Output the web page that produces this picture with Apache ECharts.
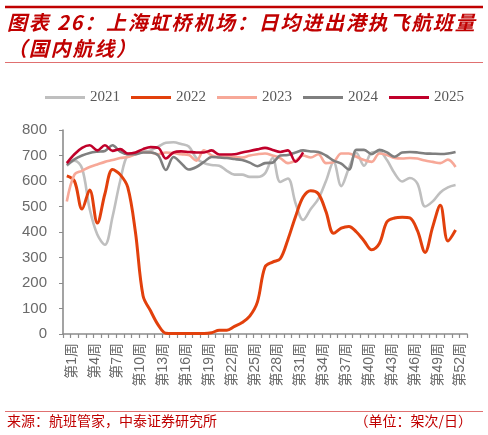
<!DOCTYPE html>
<html>
<head>
<meta charset="utf-8">
<script src="https://cdn.jsdelivr.net/npm/echarts@6/dist/echarts.min.js"></script>
<style>
html,body{margin:0;padding:0;background:#fff;}
#wrap{position:relative;width:488px;height:435px;}
#c{width:488px;height:435px;}
#title{position:absolute;left:7px;top:9px;font-family:"Noto Sans CJK SC",sans-serif;font-size:20px;font-weight:bold;font-style:italic;color:#C00000;line-height:26px;letter-spacing:1.8px;white-space:pre;}
</style>
</head>
<body>
<div id="wrap">
<div id="c"></div>
<div id="title">图表 26：上海虹桥机场：日均进出港执飞航班量
（国内航线）</div>
</div>
<script>
const weeks = [];
for (let i = 1; i <= 52; i++) weeks.push('第' + i + '周');
weeks.push('');

const yTicks = { min: 0, max: 800, interval: 100 };

const s2021 = [660,680,650,490,390,350,460,600,700,705,715,720,735,750,752,745,735,690,670,663,660,640,625,625,616,616,630,690,596,610,514,447,490,530,600,675,580,650,710,660,712,715,682,630,598,612,590,500,520,555,575,584];
const s2022 = [620,600,490,565,435,550,645,625,575,400,150,90,35,3,2,2,2,2,2,5,15,15,30,45,70,125,263,282,295,370,460,537,562,550,480,395,415,422,400,365,330,355,440,455,458,455,405,320,420,505,365,408];
const s2023 = [520,625,640,655,665,675,682,690,694,705,714,712,705,712,710,705,702,680,720,700,694,694,694,692,700,705,708,700,690,670,680,700,692,705,670,675,708,708,695,682,675,708,702,690,688,690,688,680,675,670,684,655];
const s2024 = [663,685,700,710,715,718,740,715,705,705,712,712,700,643,694,670,645,655,675,694,692,690,686,682,672,658,670,672,700,702,712,720,716,714,700,680,668,645,722,722,705,722,712,695,712,714,712,708,707,706,708,714];
const s2025 = [670,705,730,740,720,740,718,725,708,712,725,733,730,688,712,716,714,712,712,720,704,704,705,712,718,724,730,722,714,720,676,712];

const names = ['2021','2022','2023','2024','2025'];
const colors = ['#BFBFBF','#E2400C','#F7A898','#7F7F7F','#C0002A'];
const dataSets = [s2021, s2022, s2023, s2024, s2025];

const chart = echarts.init(document.getElementById('c'));
const series = names.map((n, k) => ({
  name: n,
  type: 'line',
  data: dataSets[k],
  showSymbol: false,
  smooth: 0.35,
  lineStyle: { color: colors[k], width: k === 1 ? 3 : 2.6 },
  itemStyle: { color: colors[k] }
}));

chart.setOption({
  animation: false,
  legend: {
    data: names,
    left: 40,
    top: 85,
    icon: 'rect',
    itemWidth: 40,
    itemHeight: 3,
    itemGap: 11,
    textStyle: { color: '#595959', fontSize: 15, fontFamily: '"Liberation Serif", serif' }
  },
  grid: { left: 63, right: 21, top: 130, bottom: 101, containLabel: false },
  xAxis: {
    type: 'category',
    data: weeks,
    boundaryGap: true,
    axisLine: { lineStyle: { color: '#8C8C8C', width: 1.6 } },
    axisTick: { show: true, interval: 0, length: 4, lineStyle: { color: '#8C8C8C', width: 1.2 } },
    axisLabel: {
      interval: 2,
      rotate: 90,
      margin: 9,
      lineHeight: 10,
      verticalAlign: 'top',
      color: '#6A6A6A',
      fontSize: 14,
      fontFamily: '"Liberation Sans", "Noto Sans CJK SC", sans-serif'
    },
    splitLine: { show: false }
  },
  yAxis: {
    type: 'value',
    min: yTicks.min,
    max: yTicks.max,
    interval: yTicks.interval,
    axisLine: { show: true, lineStyle: { color: '#8C8C8C', width: 1.6 } },
    axisTick: { show: true, length: 4, lineStyle: { color: '#8C8C8C' } },
    axisLabel: {
      margin: 16,
      color: '#6A6A6A',
      fontSize: 15,
      fontFamily: '"Liberation Sans", sans-serif'
    },
    splitLine: { show: false }
  },
  graphic: [
    { type: 'line', shape: { x1: 5, y1: 7, x2: 483, y2: 7 }, style: { stroke: '#C00000', lineWidth: 2.5 } },
    { type: 'line', shape: { x1: 5, y1: 62.5, x2: 483, y2: 62.5 }, style: { stroke: '#E07070', lineWidth: 1 } },
    { type: 'line', shape: { x1: 5, y1: 411.5, x2: 483, y2: 411.5 }, style: { stroke: '#E07070', lineWidth: 1 } },
    { type: 'text', left: 7, top: 414, style: { text: '来源：航班管家，中泰证券研究所', fill: '#C00000', font: '14px "Noto Sans CJK SC", sans-serif' } },
    { type: 'text', right: 16, top: 414, style: { text: '（单位：架次/日）', fill: '#C00000', font: '14px "Noto Sans CJK SC", sans-serif' } }
  ],
  series: series
});
</script>
</body>
</html>
